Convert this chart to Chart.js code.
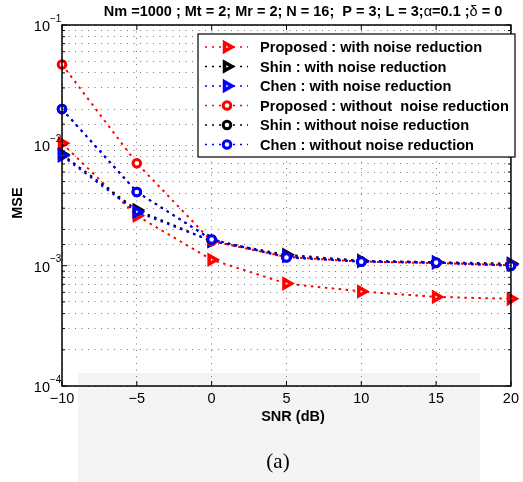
<!DOCTYPE html>
<html>
<head>
<meta charset="UTF-8">
<title>MSE x SNR</title>
<script src="https://cdn.jsdelivr.net/npm/chart.js"></script>
<style>
    html, body { margin: 0; padding: 0; background: #fff; }
</style>
</head>
<body>

<canvas id="graficoMSE" width="523" height="482"></canvas>

<script>
    // SNR (dB) no eixo x
    const snr = [-10, -5, 0, 5, 10, 15, 20];

    // MSE
    const proposedNR = [1.04e-2, 2.6e-3, 1.12e-3, 7.1e-4, 6.1e-4, 5.5e-4, 5.3e-4];
    const shinNR     = [8.4e-3, 2.9e-3, 1.6e-3, 1.23e-3, 1.1e-3, 1.07e-3, 1.04e-3];
    const chenNR     = [8.2e-3, 2.8e-3, 1.6e-3, 1.2e-3, 1.09e-3, 1.06e-3, 1.02e-3];
    const proposed   = [4.7e-2, 7.1e-3, 1.6e-3, 1.18e-3, 1.08e-3, 1.05e-3, 1.01e-3];
    const shin       = [2.0e-2, 4.1e-3, 1.65e-3, 1.18e-3, 1.08e-3, 1.06e-3, 1.0e-3];
    const chen       = [2.0e-2, 4.1e-3, 1.65e-3, 1.17e-3, 1.08e-3, 1.06e-3, 1.0e-3];

    const legendas = [
        'Proposed : with noise reduction',
        'Shin : with noise reduction',
        'Chen : with noise reduction',
        'Proposed : without  noise reduction',
        'Shin : without noise reduction',
        'Chen : without noise reduction'
    ];
    const cores = ['#ff0000', '#000000', '#0000ff', '#ff0000', '#000000', '#0000ff'];
    const marcas = ['tri', 'tri', 'tri', 'circ', 'circ', 'circ'];
    const series = [proposedNR, shinNR, chenNR, proposed, shin, chen];

    const yTicks = [1e-4, 1e-3, 1e-2, 1e-1];
    const xTicks = [-10, -5, 0, 5, 10, 15, 20];

    const FONTE = '"Liberation Sans", Arial, sans-serif';

    const datasets = series.map((valores, i) => ({
        label: legendas[i],
        data: snr.map((x, j) => ({ x: x, y: valores[j] })),
        borderColor: cores[i],
        backgroundColor: '#fff',
        pointBorderColor: cores[i],
        pointBackgroundColor: '#fff',
        borderWidth: 2,
        borderDash: [2.5, 4.5],
        pointStyle: marcas[i] === 'tri' ? 'triangle' : 'circle',
        rotation: marcas[i] === 'tri' ? 90 : 0,
        pointRadius: marcas[i] === 'tri' ? 5 : 3.8,
        pointBorderWidth: marcas[i] === 'tri' ? 3.5 : 3,
        tension: 0,
        clip: false,
        order: 5 - i
    }));

    function desenhaMarca(ctx, tipo, x, y, cor) {
        ctx.save();
        ctx.strokeStyle = cor;
        ctx.fillStyle = '#fff';
        ctx.lineWidth = tipo === 'tri' ? 3.5 : 3;
        ctx.setLineDash([]);
        ctx.beginPath();
        if (tipo === 'tri') {
            const r = 5;
            ctx.moveTo(x + r, y);
            ctx.lineTo(x - r / 2, y - r * 0.866);
            ctx.lineTo(x - r / 2, y + r * 0.866);
            ctx.closePath();
        } else {
            ctx.arc(x, y, 3.8, 0, Math.PI * 2);
        }
        ctx.fill();
        ctx.stroke();
        ctx.restore();
    }

    const moldura = {
        id: 'moldura',
        beforeDraw(chart) {
            const ctx = chart.ctx;
            ctx.save();
            ctx.fillStyle = '#fff';
            ctx.fillRect(0, 0, chart.width, chart.height);
            // fundo cinza claro da marca d'agua
            ctx.fillStyle = '#f4f4f4';
            ctx.fillRect(78, 373, 402, 109);
            ctx.restore();
        },
        afterDraw(chart) {
            const ctx = chart.ctx;
            const a = chart.chartArea;
            const xs = chart.scales.x;
            const ys = chart.scales.y;
            ctx.save();
            ctx.setLineDash([]);

            // caixa
            ctx.strokeStyle = '#000';
            ctx.lineWidth = 1.5;
            ctx.strokeRect(a.left, a.top, a.right - a.left, a.bottom - a.top);

            // marcas para dentro
            ctx.lineWidth = 1;
            ctx.beginPath();
            xTicks.forEach(v => {
                const px = xs.getPixelForValue(v);
                ctx.moveTo(px, a.bottom); ctx.lineTo(px, a.bottom - 5);
                ctx.moveTo(px, a.top); ctx.lineTo(px, a.top + 5);
            });
            ys.ticks.forEach(t => {
                const py = ys.getPixelForValue(t.value);
                const lg = Math.log10(t.value);
                const len = Math.abs(lg - Math.round(lg)) < 1e-6 ? 5 : 3;
                ctx.moveTo(a.left, py); ctx.lineTo(a.left + len, py);
                ctx.moveTo(a.right, py); ctx.lineTo(a.right - len, py);
            });
            ctx.stroke();

            // rotulos do eixo y: 10^n
            ctx.fillStyle = '#000';
            ctx.textBaseline = 'middle';
            yTicks.forEach(v => {
                const py = ys.getPixelForValue(v);
                const ex = Math.round(Math.log10(v));
                ctx.font = '14.5px ' + FONTE;
                ctx.textAlign = 'right';
                ctx.fillText('10', a.left - 12, py + 2);
                ctx.font = '10px ' + FONTE;
                ctx.textAlign = 'left';
                ctx.fillText('\u2212' + Math.abs(ex), a.left - 12, py - 6);
            });

            // titulo
            const partes = [
                ['Nm =1000 ; Mt = 2; Mr = 2; N = 16;  P = 3; L = 3;', true],
                ['\u03b1', false],
                ['=0.1 ;', true],
                ['\u03b4', false],
                [' = 0', true]
            ];
            let larg = 0;
            partes.forEach(p => {
                ctx.font = (p[1] ? 'bold ' : '') + '14.5px ' + FONTE;
                larg += ctx.measureText(p[0]).width;
            });
            let tx = 303 - larg / 2;
            ctx.textAlign = 'left';
            partes.forEach(p => {
                ctx.font = (p[1] ? 'bold ' : '') + '14.5px ' + FONTE;
                ctx.fillText(p[0], tx, 12);
                tx += ctx.measureText(p[0]).width;
            });

            // titulos dos eixos
            ctx.font = 'bold 14.5px ' + FONTE;
            ctx.textAlign = 'center';
            ctx.fillText('SNR (dB)', 293, 417);
            ctx.save();
            ctx.translate(18, 203);
            ctx.rotate(-Math.PI / 2);
            ctx.fillText('MSE', 0, 0);
            ctx.restore();

            ctx.font = '21px "Liberation Serif", "Times New Roman", serif';
            ctx.fillText('(a)', 278, 462);

            // legenda
            const lx = 198, ly = 34, lw = 317, lh = 123;
            ctx.fillStyle = '#fff';
            ctx.fillRect(lx, ly, lw, lh);
            ctx.strokeStyle = '#000';
            ctx.lineWidth = 1.2;
            ctx.strokeRect(lx, ly, lw, lh);
            legendas.forEach((txt, i) => {
                const y = ly + 13 + i * 19.5;
                ctx.strokeStyle = cores[i];
                ctx.lineWidth = 1.5;
                ctx.setLineDash([2, 5]);
                ctx.beginPath();
                ctx.moveTo(lx + 7, y);
                ctx.lineTo(lx + 50, y);
                ctx.stroke();
                ctx.setLineDash([]);
                desenhaMarca(ctx, marcas[i], lx + 29, y, cores[i]);
                ctx.fillStyle = '#000';
                ctx.font = 'bold 14.6px ' + FONTE;
                ctx.textAlign = 'left';
                ctx.fillText(txt, lx + 62, y + 1);
            });
            ctx.restore();
        }
    };

    const ctx = document.getElementById('graficoMSE').getContext('2d');
    const grafico = new Chart(ctx, {
        type: 'line',
        data: { datasets: datasets },
        options: {
            responsive: false,
            animation: false,
            events: [],
            layout: { padding: { left: 0, top: 25, right: 6, bottom: 66 } },
            plugins: {
                legend: { display: false },
                tooltip: { enabled: false },
                title: { display: false }
            },
            scales: {
                x: {
                    type: 'linear',
                    min: -10,
                    max: 20,
                    afterBuildTicks: (s) => { s.ticks = xTicks.map(v => ({ value: v })); },
                    afterFit: (s) => { s.height = 30; },
                    ticks: {
                        font: { size: 14.5, family: FONTE },
                        color: '#000',
                        padding: 4,
                        maxRotation: 0,
                        callback: (v) => String(v).replace('-', '\u2212')
                    },
                    grid: { color: '#777', lineWidth: 1, drawTicks: false },
                    border: { display: false, dash: [1, 5.5] }
                },
                y: {
                    type: 'logarithmic',
                    min: 1e-4,
                    max: 1e-1,
                    afterFit: (s) => { s.width = 62; },
                    ticks: { display: false },
                    grid: { color: '#777', lineWidth: 1, drawTicks: false },
                    border: { display: false, dash: [1, 5.5] }
                }
            }
        },
        plugins: [moldura]
    });
</script>

</body>
</html>
